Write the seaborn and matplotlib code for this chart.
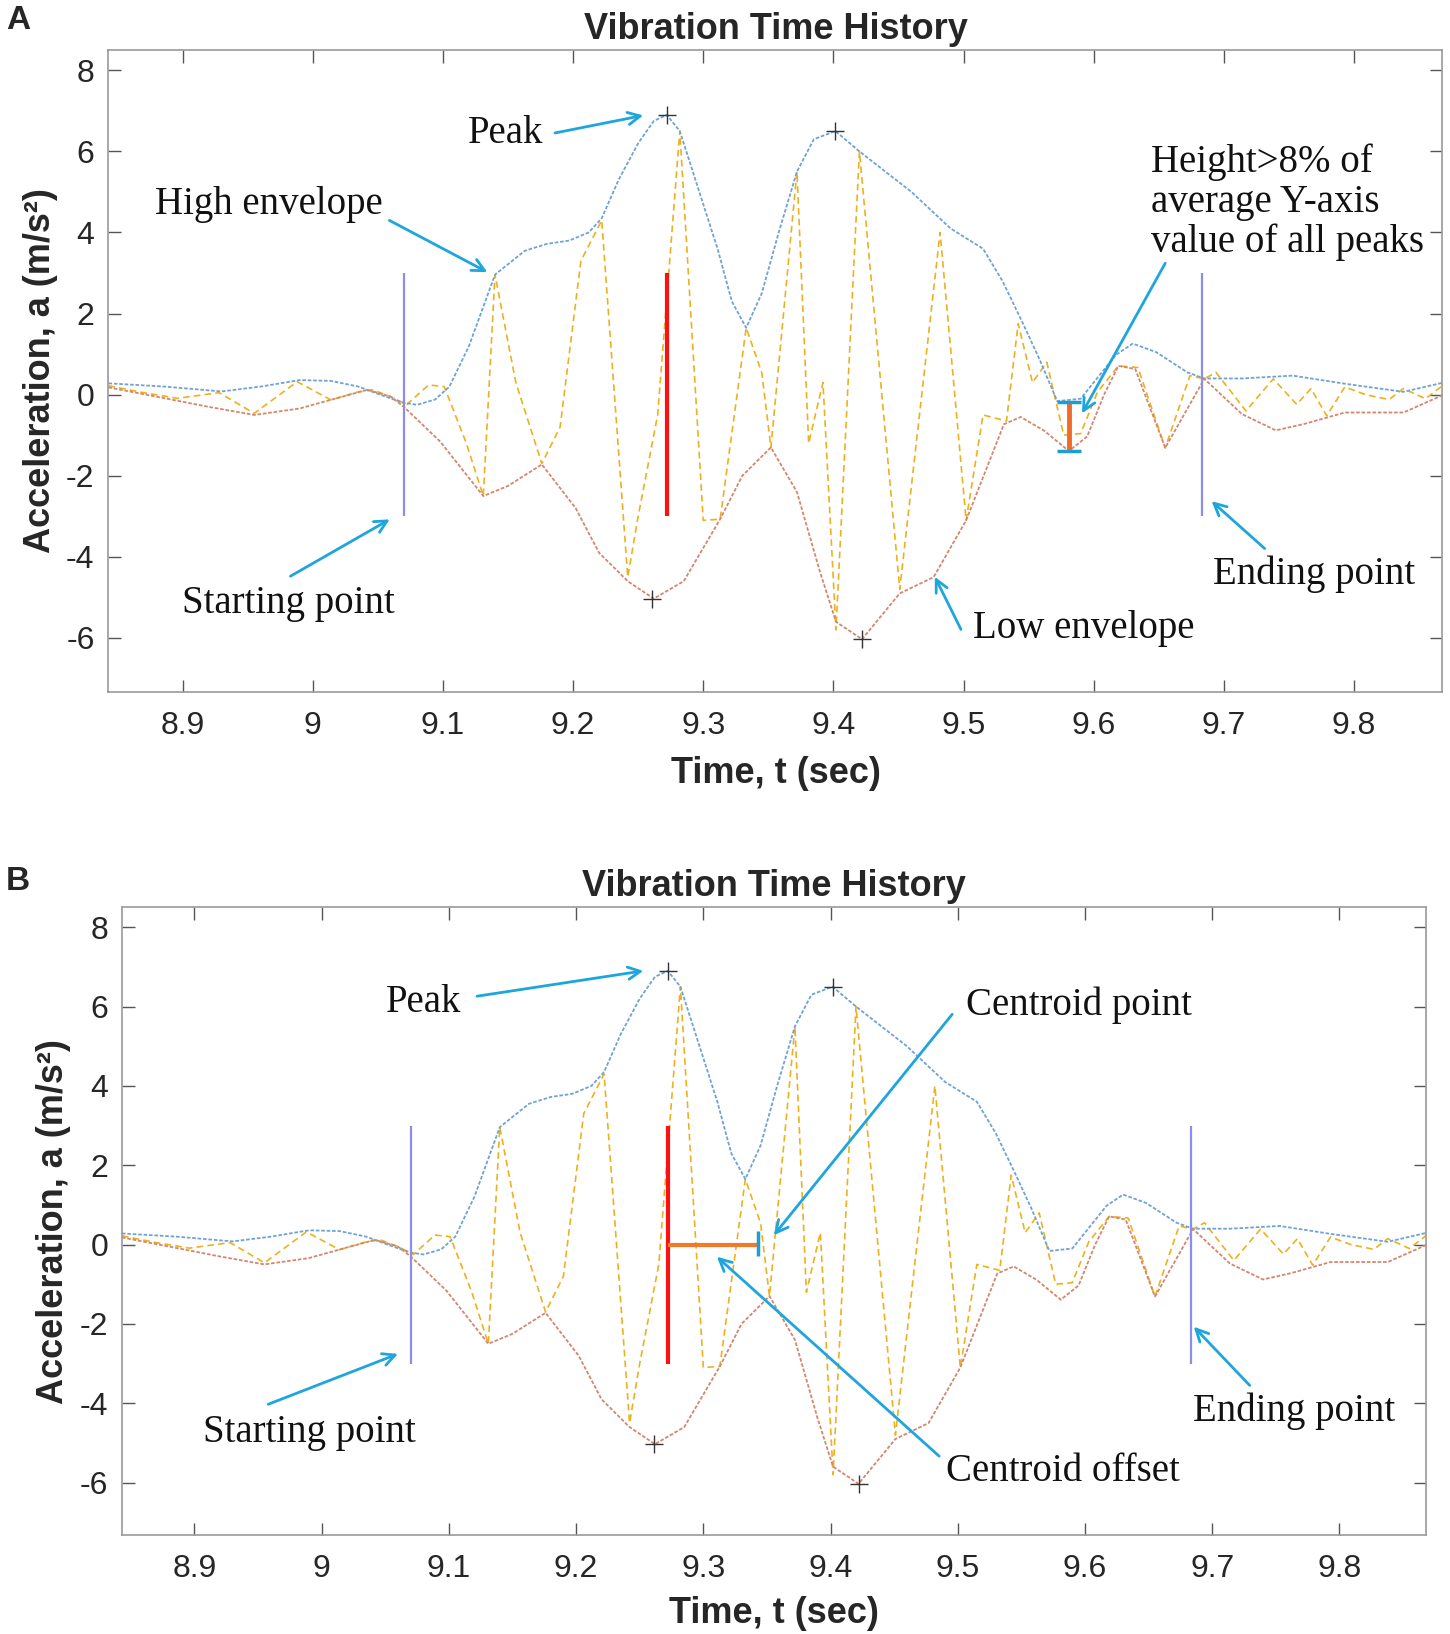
import numpy as np
import pandas as pd
import matplotlib
matplotlib.use("Agg")
import matplotlib.pyplot as plt
import seaborn as sns

# ---------------- data ----------------
raw_t = [8.843, 8.87, 8.896, 8.928, 8.955, 8.988, 9.014, 9.035, 9.046, 9.06, 9.072,
         9.089, 9.101, 9.118, 9.131, 9.14, 9.156, 9.176, 9.19, 9.206, 9.222, 9.242,
         9.25, 9.265, 9.282, 9.30, 9.313, 9.333, 9.345, 9.352, 9.372, 9.381, 9.392,
         9.402, 9.42, 9.451, 9.482, 9.502, 9.515, 9.533, 9.542, 9.553, 9.564, 9.577,
         9.59, 9.603, 9.619, 9.634, 9.655, 9.674, 9.685, 9.694, 9.717, 9.738, 9.756,
         9.767, 9.779, 9.793, 9.809, 9.827, 9.838, 9.855, 9.869]
raw_a = [0.22, 0.05, -0.09, 0.05, -0.46, 0.32, -0.13, 0.07, 0.12, -0.05, -0.25,
         0.24, 0.2, -1.2, -2.5, 2.96, 0.3, -1.7, -0.8, 3.3, 4.3, -4.5,
         -3.0, -0.5, 6.5, -3.1, -3.07, 1.65, 0.54, -1.3, 5.5, -1.2, 0.3,
         -5.8, 6.0, -4.8, 4.0, -3.1, -0.5, -0.65, 1.75, 0.3, 0.8, -1.0,
         -0.96, 0.07, 0.71, 0.67, -1.31, 0.47, 0.39, 0.55, -0.4, 0.39, -0.24,
         0.15, -0.52, 0.19, 0.0, -0.12, 0.15, -0.1, 0.25]

hi_t = [8.843, 8.886, 8.93, 8.96, 8.99, 9.014, 9.035, 9.056, 9.07, 9.08, 9.094,
        9.105, 9.12, 9.14, 9.163, 9.18, 9.197, 9.212, 9.222, 9.235, 9.25, 9.262,
        9.272, 9.282, 9.295, 9.311, 9.322, 9.333, 9.345, 9.358, 9.372, 9.385,
        9.4016, 9.42, 9.44, 9.46, 9.49, 9.515, 9.53, 9.545, 9.558, 9.572, 9.59,
        9.605, 9.617, 9.63, 9.648, 9.672, 9.685, 9.714, 9.753, 9.793, 9.838, 9.869]
hi_a = [0.28, 0.2, 0.08, 0.2, 0.36, 0.34, 0.2, -0.05, -0.2, -0.25, -0.12,
        0.2, 1.2, 2.96, 3.55, 3.72, 3.8, 4.0, 4.35, 5.3, 6.2, 6.75,
        6.9, 6.5, 5.2, 3.6, 2.3, 1.65, 2.5, 4.0, 5.5, 6.3,
        6.5, 6.0, 5.5, 5.0, 4.1, 3.6, 2.8, 1.8, 0.9, -0.16, -0.1,
        0.5, 0.98, 1.26, 1.05, 0.55, 0.4, 0.4, 0.47, 0.27, 0.07, 0.3]

lo_t = [8.843, 8.88, 8.92, 8.955, 8.99, 9.018, 9.042, 9.06, 9.07, 9.098, 9.131,
        9.15, 9.176, 9.202, 9.22, 9.242, 9.262, 9.285, 9.313, 9.33, 9.352, 9.372,
        9.39, 9.402, 9.422, 9.451, 9.477, 9.502, 9.531, 9.544, 9.562, 9.581, 9.595,
        9.608, 9.619, 9.632, 9.655, 9.685, 9.714, 9.74, 9.762, 9.793, 9.838, 9.869]
lo_a = [0.18, -0.05, -0.3, -0.5, -0.34, -0.09, 0.12, -0.05, -0.3, -1.16, -2.5,
        -2.25, -1.72, -2.8, -3.9, -4.6, -5.03, -4.6, -3.07, -2.0, -1.3, -2.4,
        -4.4, -5.6, -6.03, -4.9, -4.5, -3.1, -0.73, -0.55, -0.89, -1.39, -1.03,
        0.0, 0.71, 0.63, -1.31, 0.39, -0.48, -0.88, -0.72, -0.44, -0.44, 0.0]

peak_t = [9.272, 9.4016]
peak_a = [6.9, 6.5]
trough_t = [9.261, 9.422]
trough_a = [-5.03, -6.03]

start_t = 9.07
end_t = 9.683
main_peak_t = 9.272
centroid_t = 9.343
gate_t = 9.581
gate_lo, gate_hi = -1.39, -0.18

xticks = [8.9, 9.0, 9.1, 9.2, 9.3, 9.4, 9.5, 9.6, 9.7, 9.8]
xticklabels = ["8.9", "9", "9.1", "9.2", "9.3", "9.4", "9.5", "9.6", "9.7", "9.8"]
yticks = [-6, -4, -2, 0, 2, 4, 6, 8]
yticklabels = ["-6", "-4", "-2", "0", "2", "4", "6", "8"]

# ---------------- styling ----------------
sns.set_theme(style="white")
plt.rcParams['font.family'] = ['Liberation Sans', 'DejaVu Sans']
plt.rcParams['axes.unicode_minus'] = False

C_RAW = "#EDB120"
C_HI = "#6FA3D6"
C_LO = "#D4876E"
C_VL = "#8C8CEB"
C_ARROW = "#1EA6DC"
SERIF = ['Liberation Serif', 'DejaVu Serif']

raw_df = pd.DataFrame({"t": raw_t, "a": raw_a})
hi_df = pd.DataFrame({"t": hi_t, "a": hi_a})
lo_df = pd.DataFrame({"t": lo_t, "a": lo_a})

fig = plt.figure(figsize=(14.5, 16.34), dpi=100)
axA = fig.add_axes([0.0748, 0.5768, 0.920, 0.3926])
axB = fig.add_axes([0.0841, 0.0606, 0.8993, 0.3841])


def base(ax, xlabelpad):
    sns.lineplot(data=raw_df, x="t", y="a", ax=ax, sort=False, estimator=None,
                 color=C_RAW, lw=1.2, linestyle=(0, (4, 2.5)))
    sns.lineplot(data=hi_df, x="t", y="a", ax=ax, sort=False, estimator=None,
                 color=C_HI, lw=1.3, linestyle=(0, (2, 1)))
    sns.lineplot(data=lo_df, x="t", y="a", ax=ax, sort=False, estimator=None,
                 color=C_LO, lw=1.3, linestyle=(0, (2, 1)))
    ax.plot(peak_t, peak_a, '+', color='#333333', ms=13, mew=1.0)
    ax.plot(trough_t, trough_a, '+', color='#333333', ms=13, mew=1.0)
    ax.vlines([start_t, end_t], -3, 3, color=C_VL, lw=1.6)
    ax.vlines([main_peak_t], -3, 3, color="#FF1010", lw=3)

    ax.set_xlim(8.843, 9.868)
    ax.set_ylim(-7.32, 8.5)
    ax.set_xticks(xticks)
    ax.set_xticklabels(xticklabels)
    ax.set_yticks(yticks)
    ax.set_yticklabels(yticklabels)
    ax.tick_params(axis='both', which='both', direction='in', length=9, width=1,
                   colors='#555555', labelcolor='#262626', labelsize=23,
                   top=True, right=True, bottom=True, left=True)
    ax.tick_params(axis='x', pad=14)
    ax.tick_params(axis='y', pad=10)
    for s in ax.spines.values():
        s.set_color('#9A9A9A')
        s.set_linewidth(1.2)
    ax.set_title("Vibration Time History", fontsize=26, fontweight='bold', pad=8)
    ax.set_xlabel("Time, t (sec)", fontsize=26, fontweight='bold', labelpad=xlabelpad)
    ax.set_ylabel("Acceleration, a (m/s²)", fontsize=26, fontweight='bold', labelpad=6)


def note(ax, text, xy, xytext, ha='center', va='center', tail=None):
    ax.text(xytext[0], xytext[1], text, fontsize=28, family=SERIF,
            ha=ha, va=va, color='#111111', linespacing=1.1)
    ax.annotate("", xy=xy, xytext=tail,
                arrowprops=dict(arrowstyle='->', color=C_ARROW, lw=2,
                                mutation_scale=22))


# ---------------- panel A ----------------
base(axA, 11)
# gate height indicator
axA.vlines([gate_t], gate_lo, gate_hi, color="#F06A2A", lw=3.5, zorder=5)
axA.hlines([gate_lo, gate_hi], gate_t - 0.009, gate_t + 0.009, color="#1AA0D0", lw=2.5, zorder=6)

note(axA, "Peak", (9.256, 6.9), (9.148, 6.44), tail=(9.184, 6.44))
note(axA, "High envelope", (9.136, 2.99), (8.966, 4.69), tail=(9.057, 4.33))
note(axA, "Height>8% of\naverage Y-axis\nvalue of all peaks", (9.59, -0.52),
     (9.644, 4.75), ha='left', tail=(9.656, 3.3))
note(axA, "Starting point", (9.061, -3.04), (8.981, -5.15), tail=(8.981, -4.51))
note(axA, "Low envelope", (9.477, -4.43), (9.592, -5.77), tail=(9.499, -5.85))
note(axA, "Ending point", (9.689, -2.58), (9.769, -4.43), tail=(9.733, -3.84))

# ---------------- panel B ----------------
base(axB, 8)
axB.hlines([0], main_peak_t, centroid_t, color="#F07A2A", lw=3, zorder=5)
axB.vlines([centroid_t], -0.3, 0.34, color="#1AA0D0", lw=2.5, zorder=6)

note(axB, "Peak", (9.255, 6.91), (9.080, 6.09), tail=(9.12, 6.25))
note(axB, "Centroid point", (9.354, 0.18), (9.595, 6.02), tail=(9.497, 5.86))
note(axB, "Starting point", (9.062, -2.73), (8.99, -4.73), tail=(8.956, -4.05))
note(axB, "Ending point", (9.684, -2.02), (9.764, -4.2), tail=(9.731, -3.6))
note(axB, "Centroid offset", (9.309, -0.26), (9.583, -5.73), tail=(9.487, -5.38))

fig.text(0.004, 0.997, "A", fontsize=24, fontweight='bold', va='top', ha='left')
fig.text(0.004, 0.470, "B", fontsize=24, fontweight='bold', va='top', ha='left')

fig.savefig("out.png", dpi=100)
